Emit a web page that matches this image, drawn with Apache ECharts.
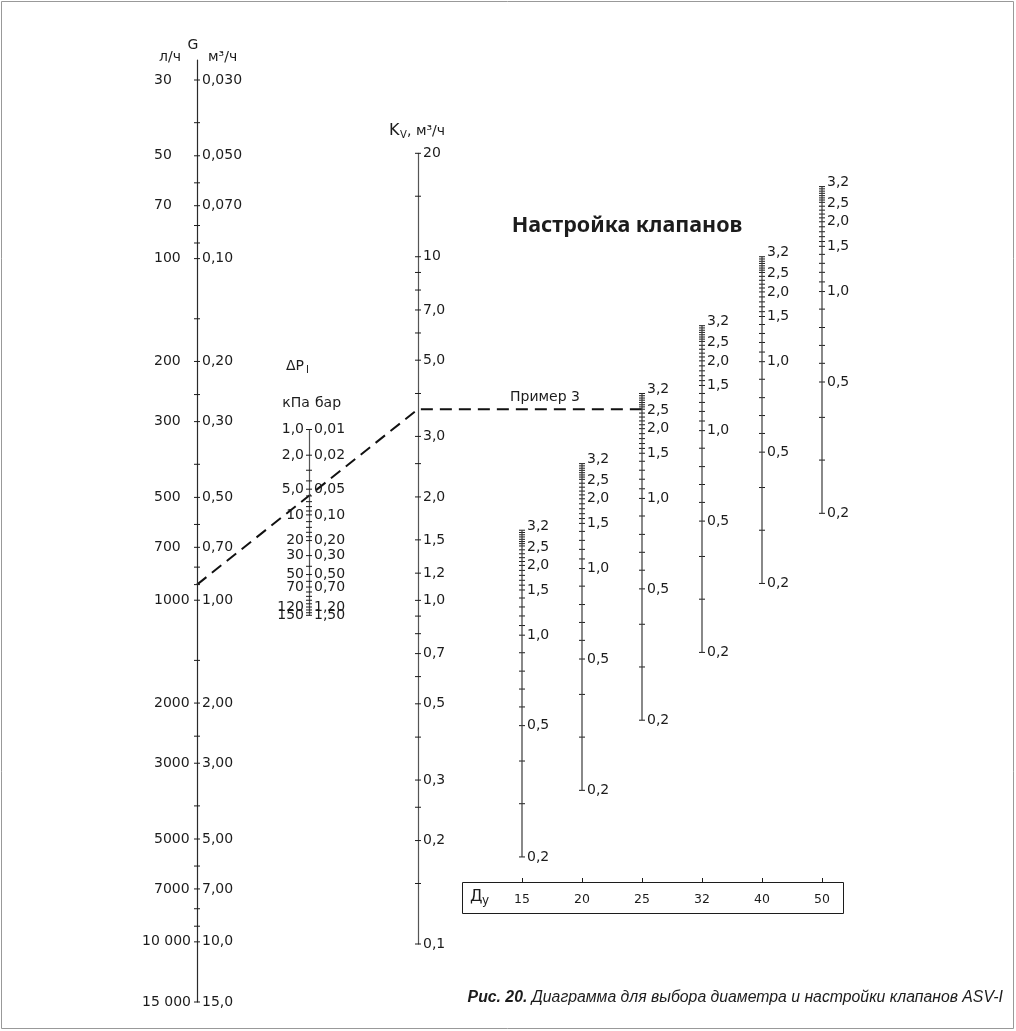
<!DOCTYPE html>
<html>
<head>
<meta charset="utf-8">
<script src="https://cdn.jsdelivr.net/npm/echarts@6/dist/echarts.min.js"></script>
<style>html,body{margin:0;padding:0;background:#fff}#main{width:1016px;height:1031px}</style>
</head>
<body>
<div id="main"></div>
<script>
// расход G: значения шкалы в м3/ч, подписи слева (л/ч) и справа (м3/ч)
var gMajor = [0.03, 0.05, 0.07, 0.1, 0.2, 0.3, 0.5, 0.7, 1, 2, 3, 5, 7, 10, 15];
var gLabelsLh = ['30', '50', '70', '100', '200', '300', '500', '700', '1000', '2000', '3000', '5000', '7000', '10 000', '15 000'];
var gLabelsM3 = ['0,030', '0,050', '0,070', '0,10', '0,20', '0,30', '0,50', '0,70', '1,00', '2,00', '3,00', '5,00', '7,00', '10,0', '15,0'];
var gMinor = [0.04, 0.06, 0.08, 0.09, 0.15, 0.25, 0.4, 0.6, 0.8, 0.9, 1.5, 2.5, 4, 6, 8, 9];

// перепад давления ΔP, кПа
var dpMajor = [1, 2, 5, 10, 20, 30, 50, 70, 120, 150];
var dpLabelsKpa = ['1,0', '2,0', '5,0', '10', '20', '30', '50', '70', '120', '150'];
var dpLabelsBar = ['0,01', '0,02', '0,05', '0,10', '0,20', '0,30', '0,50', '0,70', '1,20', '1,50'];
var dpMinor = [3, 4, 6, 7, 8, 9, 12, 14, 16, 18, 40, 60, 80, 90, 100, 110, 130, 140];

// пропускная способность Kv, м3/ч
var kvMajor = [20, 10, 7, 5, 3, 2, 1.5, 1.2, 1, 0.7, 0.5, 0.3, 0.2, 0.1];
var kvLabels = ['20', '10', '7,0', '5,0', '3,0', '2,0', '1,5', '1,2', '1,0', '0,7', '0,5', '0,3', '0,2', '0,1'];
var kvMinor = [15, 9, 8, 6, 4, 2.5, 0.9, 0.8, 0.6, 0.4, 0.25, 0.15];

// клапаны: Ду и Kvs (положение верхней отметки 3,2)
var dnList = ['15', '20', '25', '32', '40', '50'];
var kvsList = [1.6, 2.5, 4.0, 6.3, 10, 16];

// настройка и Kv/Kvs на каждой отметке шкалы настройки
var settings = [0.2, 0.3, 0.4, 0.5, 0.6, 0.7, 0.8, 0.9, 1.0, 1.1, 1.2, 1.3, 1.4, 1.5, 1.6, 1.7, 1.8, 1.9, 2.0,
                2.1, 2.2, 2.3, 2.4, 2.5, 2.6, 2.7, 2.8, 2.9, 3.0, 3.1, 3.2];
var kvRelative = [0.112, 0.160, 0.213, 0.270, 0.306, 0.345, 0.389, 0.440, 0.495, 0.528, 0.563, 0.598, 0.635, 0.670,
                  0.692, 0.715, 0.739, 0.764, 0.790, 0.811, 0.832, 0.854, 0.877, 0.900, 0.914, 0.927, 0.941, 0.956,
                  0.970, 0.985, 1.000];
var settingLabels = [3.2, 2.5, 2.0, 1.5, 1.0, 0.5, 0.2];

// пример 3
var exampleG = 0.9;       // м3/ч
var exampleKv = 3.6;
var exampleDn = '25';
var exampleSetting = 2.5;

var INK = '#1c1c1c';
var FONT = '14px "DejaVu Sans", sans-serif';
var mctx = document.createElement('canvas').getContext('2d');
mctx.font = FONT;
function textW(s) { return mctx.measureText(s).width; }

// значение на лог. шкале для пикселя y, шкала задана двумя точками
function logAt(v1, y1, v2, y2, y) {
    var d = (y2 - y1) / Math.log10(v2 / v1);
    return v1 * Math.pow(10, (y - y1) / d);
}

function ticks(o) {
    return {
        type: 'custom',
        xAxisIndex: o.xi, yAxisIndex: o.yi,
        silent: true,
        data: o.values.map(function (v) { return [o.x, v]; }),
        renderItem: function (params, api) {
            var p = api.coord([api.value(0), api.value(1)]);
            var i = params.dataIndex;
            var dy = o.dy ? (o.dy[i] || 0) : 0;
            var h = o.half || 3;
            var ch = [{
                type: 'line',
                shape: { x1: p[0] - h, y1: p[1], x2: p[0] + h, y2: p[1] },
                style: { stroke: INK, lineWidth: 1 }
            }];
            if (o.left && o.left[i]) {
                var s = o.left[i];
                var xl = p[0] - 5 - textW(s);
                if (o.leftStart) xl = Math.min(p[0] - o.leftStart, p[0] - 6 - textW(s));
                ch.push({ type: 'text', x: xl, y: p[1] + dy,
                    style: { text: s, font: FONT, fill: INK, align: 'left', verticalAlign: 'middle' } });
            }
            if (o.right && o.right[i]) {
                ch.push({ type: 'text', x: p[0] + 5, y: p[1] + dy,
                    style: { text: o.right[i], font: FONT, fill: INK, align: 'left', verticalAlign: 'middle' } });
            }
            return { type: 'group', children: ch };
        }
    };
}

function fmt(v) { return v.toFixed(1).replace('.', ','); }

var myChart = echarts.init(document.getElementById('main'));

var hiddenX = function (g) { return { type: 'value', gridIndex: g, min: 0, max: 1, show: false }; };
function scaleAxis(g, min, max, inverse, color) {
    return {
        type: 'log', gridIndex: g, min: min, max: max, inverse: inverse, position: 'left',
        axisLine: { show: true, lineStyle: { color: color, width: 1.2 } },
        axisTick: { show: false }, axisLabel: { show: false }, splitLine: { show: false }
    };
}

var grids = [
    { left: 197, top: 60, width: 20, height: 942 },      // G
    { left: 309, top: 429.5, width: 20, height: 185.8 }, // ΔP
    { left: 418, top: 153.3, width: 20, height: 790.7 }, // Kv
    { left: 492, top: 153.3, width: 360, height: 790.7 } // Ду
];
grids.forEach(function (g) { g.outerBoundsMode = 'none'; g.containLabel = false; });

var yAxes = [
    scaleAxis(0, logAt(0.03, 80, 15, 1002, 60), 15, true, '#2a2a2a'),
    scaleAxis(1, 1, 150, true, '#555'),
    scaleAxis(2, 0.1, 20, false, '#555')
];
kvsList.forEach(function (kvs) {
    yAxes.push({ type: 'log', gridIndex: 3, min: 0.1 / kvs, max: 20 / kvs, show: false });
});

var xAxes = [hiddenX(0), hiddenX(1), hiddenX(2), {
    type: 'category', gridIndex: 3, data: dnList, position: 'bottom', offset: -62,
    axisLine: { show: false },
    axisTick: { show: true, inside: true, length: 4, alignWithLabel: true, lineStyle: { color: INK } },
    axisLabel: { margin: 11, fontSize: 12.5, fontFamily: 'DejaVu Sans', color: INK },
    splitLine: { show: false }
}];

var series = [
    ticks({ xi: 0, yi: 0, x: 0, values: gMajor, left: gLabelsLh, right: gLabelsM3, leftStart: 43 }),
    ticks({ xi: 0, yi: 0, x: 0, values: gMinor }),
    ticks({ xi: 1, yi: 1, x: 0, values: dpMajor, left: dpLabelsKpa, right: dpLabelsBar }),
    ticks({ xi: 1, yi: 1, x: 0, values: dpMinor }),
    ticks({ xi: 2, yi: 2, x: 0, values: kvMajor, right: kvLabels }),
    ticks({ xi: 2, yi: 2, x: 0, values: kvMinor })
];
var dnLabels = settings.map(function (s) { return settingLabels.indexOf(s) >= 0 ? fmt(s) : null; });
var dnDy = settings.map(function (s) { return s === 3.2 ? -4 : (s === 2.5 ? 1 : 0); });
dnList.forEach(function (dn, i) {
    series.push({
        type: 'line', xAxisIndex: 3, yAxisIndex: 3 + i, silent: true, symbol: 'none',
        lineStyle: { color: '#3a3a3a', width: 1.2 },
        data: kvRelative.map(function (r) { return [i, r]; })
    });
});
dnList.forEach(function (dn, i) {
    series.push(ticks({ xi: 3, yi: 3 + i, x: i, values: kvRelative, right: dnLabels, dy: dnDy }));
});

myChart.setOption({
    animation: false,
    backgroundColor: '#fff',
    grid: grids,
    xAxis: xAxes,
    yAxis: yAxes,
    series: series
});

// линия примера через шкалы G -> Kv -> Ду
var di = dnList.indexOf(exampleDn);
var pG = myChart.convertToPixel({ seriesIndex: 0 }, [0, exampleG]);
var pKv = myChart.convertToPixel({ seriesIndex: 4 }, [0, exampleKv]);
var pDn = myChart.convertToPixel({ seriesIndex: 12 + di }, [di, kvRelative[settings.indexOf(exampleSetting)]]);

function txt(x, y, s, font, align) {
    return { type: 'text', x: x, y: y, silent: true,
        style: { text: s, font: font || FONT, fill: INK, align: align || 'left', textAlign: align || 'left',
                 verticalAlign: 'middle', textVerticalAlign: 'middle' } };
}

myChart.setOption({
    graphic: [
        { type: 'rect', silent: true, shape: { x: 1.5, y: 1.5, width: 1012, height: 1027 },
          style: { fill: null, stroke: '#999', lineWidth: 1 } },
        { type: 'polyline', silent: true, shape: { points: [pG, pKv, pDn] },
          style: { fill: null, stroke: '#111', lineWidth: 2, lineDash: [12, 7] } },
        txt(545, pKv[1] - 12, 'Пример 3', FONT, 'center'),
        txt(193, 45, 'G', FONT, 'center'),
        txt(170, 57, 'л/ч', FONT, 'center'),
        txt(208, 57, 'м³/ч'),
        txt(389, 131, 'K', '16px "DejaVu Sans"'),
        txt(400, 135, 'V', '10px "DejaVu Sans"'),
        txt(407, 131, ', м³/ч'),
        txt(286, 366, 'ΔP', FONT),
        txt(306, 370, 'I', '10px "DejaVu Sans"'),
        txt(296, 403, 'кПа', FONT, 'center'),
        txt(328, 403, 'бар', FONT, 'center'),
        txt(627, 226, 'Настройка клапанов', 'bold 21.5px "Noto Sans", sans-serif', 'center'),
        { type: 'rect', silent: true, shape: { x: 462.5, y: 882.5, width: 381, height: 31 },
          style: { fill: null, stroke: INK, lineWidth: 1 } },
        txt(470, 897, 'Д', '16px "DejaVu Sans"'),
        txt(482, 901, 'у', '12px "DejaVu Sans"'),
        { type: 'text', x: 1003, y: 998, silent: true,
          style: { text: '{b|Рис. 20.} {i|Диаграмма для выбора диаметра и настройки клапанов ASV-I}',
                   align: 'right', textAlign: 'right', verticalAlign: 'middle', textVerticalAlign: 'middle',
                   font: 'italic 15.8px "Liberation Sans"', fill: INK,
                   rich: {
                       b: { fontFamily: 'Liberation Sans', fontStyle: 'italic', fontWeight: 'bold', fontSize: 15.8, fill: INK, color: INK },
                       i: { fontFamily: 'Liberation Sans', fontStyle: 'italic', fontSize: 15.8, fill: INK, color: INK }
                   } } }
    ]
});
</script>
</body>
</html>
